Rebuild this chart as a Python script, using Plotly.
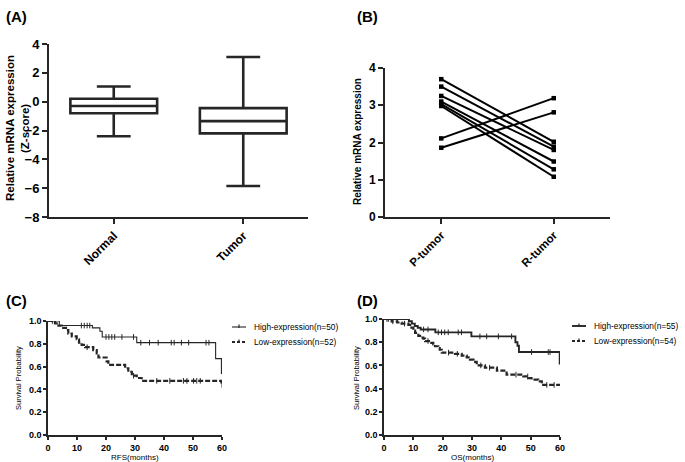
import numpy as np
import plotly.graph_objects as go

W, H = 685, 462
def px(x): return x / W
def py(y): return 1 - y / H

# ---------------- data ----------------
# Panel A: box summary (Z-score)
box_groups = ["Normal", "Tumor"]
box_lower = [-2.4, -5.85]
box_q1 = [-0.8, -2.2]
box_median = [-0.3, -1.35]
box_q3 = [0.2, -0.45]
box_upper = [1.05, 3.1]

# Panel B: paired samples
pair_groups = ["P-tumor", "R-tumor"]
p_tumor = [3.70, 3.50, 3.25, 3.10, 3.03, 2.98, 2.11, 1.86]
r_tumor = [2.02, 1.89, 1.80, 1.49, 1.28, 1.08, 3.19, 2.81]

# Panel C: RFS Kaplan-Meier
c_high_t = [0, 3.9, 15.3, 17.9, 18.7, 30.6, 57.8, 59.8, 60]
c_high_s = [1.0, 0.96, 0.94, 0.91, 0.86, 0.81, 0.67, 0.54, 0.54]
c_high_cens = [2.5, 11.5, 12.5, 13.5, 14.4, 20.0, 21.0, 22.0, 23.0, 25.5, 29.5,
               32.0, 35.0, 38.0, 42.5, 43.5, 46.0, 48.5, 54.5, 55.5]
c_low_t = [0, 2.4, 3.6, 4.7, 6.2, 7.0, 8.2, 9.9, 10.7, 11.6, 12.8, 15.6, 16.8,
           17.4, 20.2, 20.8, 26.6, 27.7, 28.9, 30.6, 32.3, 59.8, 60]
c_low_s = [1.0, 0.98, 0.96, 0.94, 0.92, 0.89, 0.865, 0.84, 0.81, 0.79, 0.77,
           0.745, 0.715, 0.68, 0.645, 0.615, 0.585, 0.555, 0.52, 0.50, 0.475,
           0.44, 0.44]
c_low_cens = [1.5, 13.5, 29.5, 37.5, 42.0, 46.7, 47.9, 50.2, 51.3, 52.5, 60.0]

# Panel D: OS Kaplan-Meier
d_high_t = [0, 8.5, 9.5, 10.5, 11.5, 12.5, 17.5, 29.8, 44.8, 45.5, 46.0, 59.9, 60]
d_high_s = [1.0, 0.98, 0.96, 0.94, 0.925, 0.91, 0.885, 0.85, 0.80, 0.77,
            0.715, 0.615, 0.615]
d_high_cens = [1.5, 4.5, 13.5, 15.0, 18.5, 19.6, 20.7, 21.9, 25.3, 26.4,
               32.7, 35.0, 39.0, 43.5, 50.3, 56.0, 56.6]
d_low_t = [0, 2.6, 4.5, 6.0, 8.3, 8.9, 10.0, 10.6, 11.7, 12.3, 13.4, 14.0, 15.7,
           16.8, 17.4, 18.5, 19.0, 19.7, 24.2, 26.5, 28.2, 29.3, 30.5, 31.6,
           34.4, 38.5, 41.8, 47.5, 49.2, 50.3, 52.6, 53.8, 60]
d_low_s = [1.0, 0.98, 0.97, 0.96, 0.95, 0.925, 0.9, 0.88, 0.855, 0.84, 0.83,
           0.81, 0.795, 0.78, 0.765, 0.75, 0.735, 0.71, 0.70, 0.685, 0.67,
           0.65, 0.63, 0.60, 0.58, 0.555, 0.52, 0.505, 0.49, 0.478, 0.463,
           0.432, 0.432]
d_low_cens = [1.0, 3.0, 7.0, 15.0, 22.0, 25.0, 33.0, 36.0, 45.0, 49.0, 55.5, 58.0]

# ---------------- figure ----------------
INK = "#262626"
FONT = "Liberation Sans, Arial, sans-serif"
DASH = "5px,2px"
fig = go.Figure()

# Panel A boxes
fig.add_trace(go.Box(
    x=[0, 1], q1=box_q1, median=box_median, q3=box_q3,
    lowerfence=box_lower, upperfence=box_upper,
    width=0.67, whiskerwidth=0.39, boxpoints=False,
    line=dict(color=INK, width=2.6), fillcolor="white",
    xaxis="x", yaxis="y", showlegend=False, hoverinfo="skip"))

# Panel B paired lines
for p, r in zip(p_tumor, r_tumor):
    fig.add_trace(go.Scatter(
        x=[0, 1], y=[p, r], mode="lines+markers",
        line=dict(color="black", width=2),
        marker=dict(symbol="square", size=4.5, color="black"),
        xaxis="x2", yaxis="y2", showlegend=False, hoverinfo="skip"))

def km(t, s, cens, ax, ay, width, dash):
    fig.add_trace(go.Scatter(
        x=t, y=s, mode="lines", line=dict(color=INK, width=width, dash=dash, shape="hv"),
        xaxis=ax, yaxis=ay, showlegend=False, hoverinfo="skip"))
    tt = np.array(t); ss = np.array(s)
    idx = np.searchsorted(tt, np.array(cens), side="right") - 1
    fig.add_trace(go.Scatter(
        x=cens, y=ss[idx], mode="markers",
        marker=dict(symbol="line-ns", size=4, line=dict(color=INK, width=1)),
        xaxis=ax, yaxis=ay, showlegend=False, hoverinfo="skip"))

km(c_high_t, c_high_s, c_high_cens, "x3", "y3", 1.1, "solid")
km(c_low_t, c_low_s, c_low_cens, "x3", "y3", 2.2, DASH)
km(d_high_t, d_high_s, d_high_cens, "x4", "y4", 1.9, "solid")
km(d_low_t, d_low_s, d_low_cens, "x4", "y4", 2.2, DASH)

axAB = dict(showline=True, linecolor=INK, linewidth=2, ticks="outside",
            ticklen=5, tickwidth=2, tickcolor=INK, showgrid=False, zeroline=False,
            automargin=False,
            tickfont=dict(family=FONT, size=13, color="black", weight="bold"))
axCD = dict(showline=True, linecolor=INK, linewidth=1.5, ticks="outside",
            ticklen=3, tickwidth=1.5, tickcolor=INK, showgrid=False, zeroline=False,
            automargin=False,
            tickfont=dict(family=FONT, size=9, color="black", weight="bold"))

layout = dict(
    template="none",
    width=W, height=H, margin=dict(l=0, r=0, t=0, b=0, pad=0, autoexpand=False),
    paper_bgcolor="white", plot_bgcolor="white",
    font=dict(family=FONT, color="black"),
    xaxis=dict(axAB, domain=[px(49), px(308)], range=[-0.5, 1.5],
               tickvals=[0, 1], ticktext=box_groups, tickangle=-45,
               tickfont=dict(family=FONT, size=12, color="black", weight="bold"),
               anchor="y"),
    yaxis=dict(axAB, domain=[py(217), py(44)], range=[-8, 4], dtick=2, anchor="x"),
    xaxis2=dict(axAB, domain=[px(385), px(610)], range=[-0.5, 1.5],
                tickvals=[0, 1], ticktext=pair_groups, tickangle=-45,
                tickfont=dict(family=FONT, size=11.5, color="black", weight="bold"),
                anchor="y2"),
    yaxis2=dict(axAB, domain=[py(217), py(68)], range=[0, 4], dtick=1, anchor="x2",
                tickfont=dict(family=FONT, size=12, color="black", weight="bold")),
    xaxis3=dict(axCD, domain=[px(48), px(222)], range=[0, 60], dtick=10, anchor="y3"),
    yaxis3=dict(axCD, domain=[py(435), py(321)], range=[0, 1], dtick=0.2,
                tickformat=".1f", anchor="x3"),
    xaxis4=dict(axCD, domain=[px(384), px(560)], range=[0, 60], dtick=10, anchor="y4"),
    yaxis4=dict(axCD, domain=[py(435), py(319)], range=[0, 1], dtick=0.2,
                tickformat=".1f", anchor="x4"),
    showlegend=False,
)
fig.update_layout(**layout)

ann = []
def text(x, y, s, size, bold=False, angle=0, xanchor="center"):
    ann.append(dict(x=px(x), y=py(y), xref="paper", yref="paper", text=s,
                    showarrow=False, textangle=angle, xanchor=xanchor, yanchor="middle",
                    font=dict(family=FONT, size=size, color="black",
                              weight="bold" if bold else "normal")))

# panel labels
text(4, 16, "(A)", 15, True, xanchor="left")
text(355, 16, "(B)", 15, True, xanchor="left")
text(4, 300, "(C)", 15, True, xanchor="left")
text(355, 300, "(D)", 15, True, xanchor="left")
# axis titles
text(10, 128, "Relative mRNA expression", 11.5, True, -90)
text(25, 128, "(Z-score)", 11.5, True, -90)
text(358, 142, "Relative mRNA expression", 10, True, -90)
text(18, 378, "Survival Probability", 7.5, False, -90)
text(356, 378, "Survival Probability", 7.5, False, -90)
text(135, 457, "RFS(months)", 8)
text(472, 457, "OS(months)", 8)

# custom legends
shapes = []
def legend_item(x0, y, label, width, dash):
    shapes.append(dict(type="line", xref="paper", yref="paper",
                       x0=px(x0), x1=px(x0 + 14), y0=py(y), y1=py(y),
                       line=dict(color=INK, width=width, dash=dash)))
    shapes.append(dict(type="line", xref="paper", yref="paper",
                       x0=px(x0 + 7), x1=px(x0 + 7), y0=py(y - 2.5), y1=py(y + 1),
                       line=dict(color=INK, width=1.2)))
    text(x0 + 20, y, label, 8.3, False, xanchor="left")

legend_item(232, 327, "High-expression(n=50)", 1.1, "solid")
legend_item(232, 342, "Low-expression(n=52)", 2, "3px,2px")
legend_item(572, 326, "High-expression(n=55)", 1.9, "solid")
legend_item(572, 341, "Low-expression(n=54)", 2, "3px,2px")

fig.update_layout(annotations=ann, shapes=shapes)
fig.write_html("out.html", config={"displayModeBar": False},
               post_script="document.body.style.margin='0';"
                           "document.body.style.overflow='hidden';")
